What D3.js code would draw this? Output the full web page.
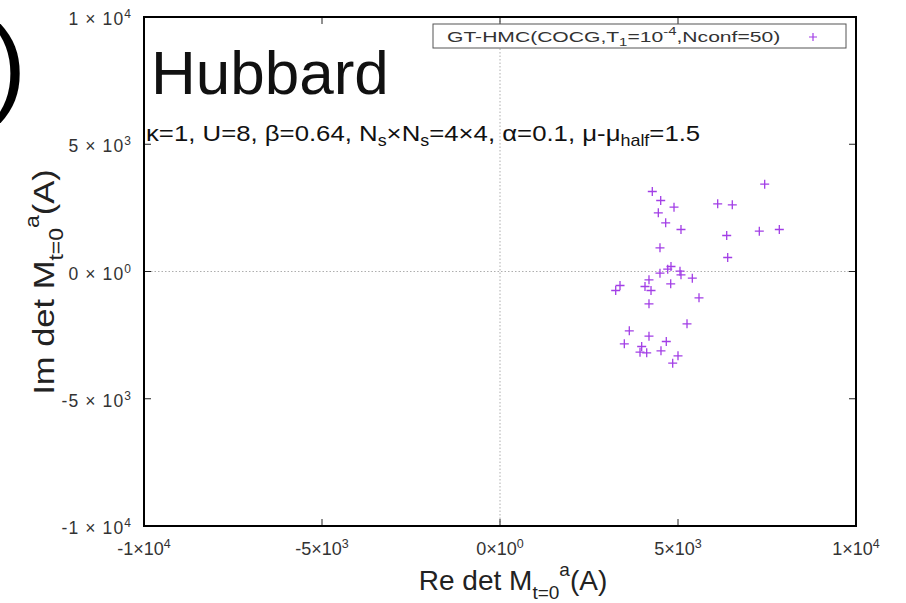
<!DOCTYPE html>
<html><head><meta charset="utf-8">
<script src="https://cdn.jsdelivr.net/npm/d3@7"></script>
<style>body{margin:0;background:#fff;}svg{display:block;font-family:"Liberation Sans",Arial,sans-serif;}</style>
</head><body>
<svg id="c" width="906" height="603"></svg>
<script>
const reVals = [4278,4514,4888,4447,4654,5084,4494,7435,6115,6525,6368,7284,7846,6396,4803,4711,4494,5056,5084,5402,4185,4795,3371,3250,4073,4242,5590,4185,5253,3632,4185,3492,4671,3980,3933,4121,4522,5000,4851];
const imVals = [3143,2790,2527,2306,1914,1650,931,3430,2660,2621,1415,1583,1650,550,196,90,-67,12,-130,-263,-326,-483,-550,-747,-589,-747,-1033,-1269,-2055,-2330,-2542,-2841,-2750,-2947,-3171,-3194,-3116,-3312,-3603];
const xTicks = [-10000,-5000,0,5000,10000];
const yTicks = [-10000,-5000,0,5000,10000];
const xTickMant = ["-1","-5","0","5","1"], xTickExp = ["4","3","0","3","4"];
const yTickMant = ["-1","-5","0","5","1"], yTickExp = ["4","3","0","3","4"];

const svg = d3.select("#c");
const L=144, R=856, T=17, B=526;
const x = d3.scaleLinear().domain([-10000,10000]).range([L,R]);
const y = d3.scaleLinear().domain([-10000,10000]).range([B,T]);
const col = "#a23ee6";

// zero axes
svg.append("line").attr("x1",x(0)).attr("x2",x(0)).attr("y1",T).attr("y2",B)
  .attr("stroke","#999").attr("stroke-width",0.8).attr("stroke-dasharray","1.5,2");
svg.append("line").attr("x1",L).attr("x2",R).attr("y1",y(0)).attr("y2",y(0))
  .attr("stroke","#999").attr("stroke-width",0.8).attr("stroke-dasharray","1.5,2");

// ticks (inward, all sides)
const tl=7;
xTicks.forEach(v=>{
  svg.append("line").attr("x1",x(v)).attr("x2",x(v)).attr("y1",B).attr("y2",B-tl).attr("stroke","#222").attr("stroke-width",1);
  svg.append("line").attr("x1",x(v)).attr("x2",x(v)).attr("y1",T).attr("y2",T+tl).attr("stroke","#222").attr("stroke-width",1);
});
yTicks.forEach(v=>{
  svg.append("line").attr("x1",L).attr("x2",L+tl).attr("y1",y(v)).attr("y2",y(v)).attr("stroke","#222").attr("stroke-width",1);
  svg.append("line").attr("x1",R).attr("x2",R-tl).attr("y1",y(v)).attr("y2",y(v)).attr("stroke","#222").attr("stroke-width",1);
});

// frame
svg.append("rect").attr("x",L).attr("y",T).attr("width",R-L).attr("height",B-T)
  .attr("fill","none").attr("stroke","#000").attr("stroke-width",2);

// y tick labels
yTicks.forEach((v,i)=>{
  const t = svg.append("text").attr("x",132).attr("y",y(v)+8).attr("text-anchor","end")
    .attr("font-size",17.5).attr("fill","#333").attr("letter-spacing","1.1");
  t.append("tspan").text(yTickMant[i]+" \u00d7 10");
  t.append("tspan").attr("dy",-7).attr("font-size",12).text(yTickExp[i]);
});
// x tick labels
xTicks.forEach((v,i)=>{
  const t = svg.append("text").attr("x",x(v)).attr("y",555).attr("text-anchor","middle")
    .attr("font-size",18).attr("fill","#333");
  t.append("tspan").text(xTickMant[i]+"\u00d710");
  t.append("tspan").attr("dy",-7).attr("font-size",12.5).text(xTickExp[i]);
});

// points
const g = svg.append("g");
reVals.forEach((rv,i)=>{
  const px=x(rv), py=y(imVals[i]), s=4.5;
  g.append("path").attr("d",`M${px-s},${py}H${px+s}M${px},${py-s}V${py+s}`)
    .attr("stroke",col).attr("stroke-width",1.3);
});

// legend
svg.append("rect").attr("x",433).attr("y",24).attr("width",413).attr("height",24)
  .attr("fill","#fff").attr("stroke","#555").attr("stroke-width",1);
const lt = svg.append("text").attr("transform","translate(447,42) scale(1.36,1)").attr("font-size",15.5).attr("fill","#333");
lt.append("tspan").text("GT-HMC(COCG,T");
lt.append("tspan").attr("dy",4).attr("font-size",11).text("1");
lt.append("tspan").attr("dy",-4).text("=10");
lt.append("tspan").attr("dy",-7).attr("font-size",11).text("-4");
lt.append("tspan").attr("dy",7).text(",Nconf=50)");
svg.append("path").attr("d","M809,37H817M813,33V41").attr("stroke",col).attr("stroke-width",1.2);

// title
svg.append("text").attr("x",151).attr("y",94).attr("font-size",62).attr("fill","#111").text("Hubbard");
const st = svg.append("text").attr("transform","translate(146,141) scale(1.12,1)").attr("font-size",23).attr("fill","#111");
st.append("tspan").text("\u03ba=1, U=8, \u03b2=0.64, N");
st.append("tspan").attr("dy",5).attr("font-size",16).text("s");
st.append("tspan").attr("dy",-5).text("\u00d7N");
st.append("tspan").attr("dy",5).attr("font-size",16).text("s");
st.append("tspan").attr("dy",-5).text("=4\u00d74, \u03b1=0.1, \u03bc-\u03bc");
st.append("tspan").attr("dy",5).attr("font-size",16).text("half");
st.append("tspan").attr("dy",-5).text("=1.5");

// x axis label
const xl = svg.append("text").attr("x",513).attr("y",590).attr("text-anchor","middle").attr("font-size",28).attr("fill","#222");
xl.append("tspan").text("Re det M");
xl.append("tspan").attr("dy",9).attr("font-size",19).text("t=0");
xl.append("tspan").attr("dy",-23).attr("font-size",19).text("a");
xl.append("tspan").attr("dy",14).text("(A)");

// y axis label
const yl = svg.append("text").attr("transform","translate(54,282) rotate(-90) scale(1.15,1)").attr("text-anchor","middle").attr("font-size",30).attr("fill","#222");
yl.append("tspan").text("Im det M");
yl.append("tspan").attr("dy",9).attr("font-size",20).text("t=0");
yl.append("tspan").attr("dy",-24).attr("font-size",20).text("a");
yl.append("tspan").attr("dy",15).text("(A)");

// cropped panel label
svg.append("text").attr("x",-9).attr("y",101).attr("font-size",106).attr("fill","#000").text(")");
</script>
</body></html>
